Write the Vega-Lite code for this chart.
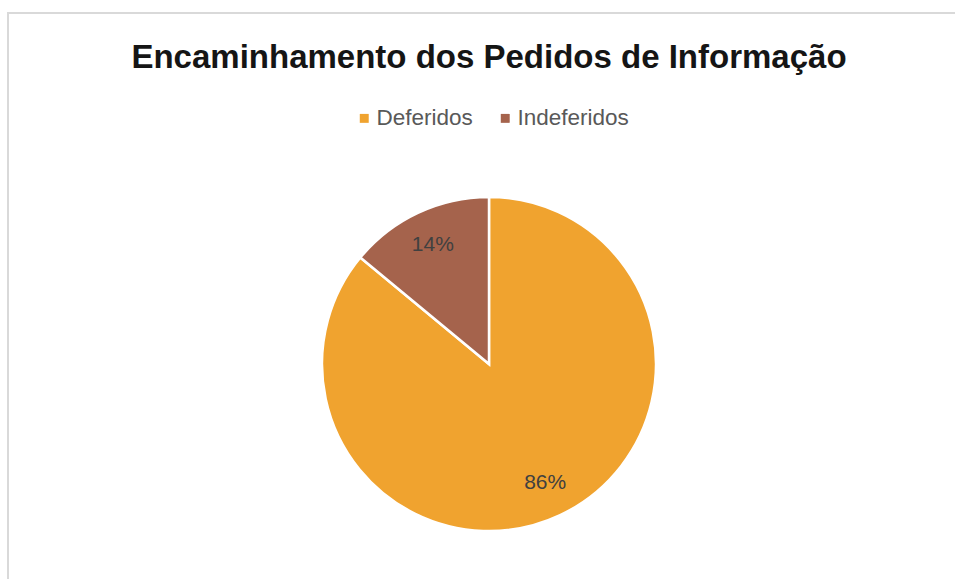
{
  "$schema": "https://vega.github.io/schema/vega-lite/v6.json",
  "autosize": "none",
  "padding": {"top": 13, "left": 8, "right": 0, "bottom": 0},
  "width": 962,
  "height": 702,
  "background": "white",
  "config": {
    "view": {"stroke": "#d9d9d9", "strokeWidth": 2, "fill": "white"},
    "font": "Liberation Sans"
  },
  "title": {
    "text": "Encaminhamento dos Pedidos de Informação",
    "anchor": "middle",
    "frame": "group",
    "offset": -89,
    "baseline": "alphabetic",
    "fontSize": 33,
    "fontWeight": "bold",
    "font": "Liberation Sans",
    "color": "#151515"
  },
  "data": {
    "values": [
      {"categoria": "Deferidos", "valor": 0.86, "ordem": 1},
      {"categoria": "Indeferidos", "valor": 0.14, "ordem": 2}
    ]
  },
  "layer": [
    {
      "data": {"values": [{"moldura": "borda"}]},
      "mark": {"type": "rect", "fill": null, "stroke": "#d9d9d9", "strokeWidth": 2},
      "encoding": {}
    },
    {
      "mark": {"type": "arc", "outerRadius": 167, "stroke": "white", "strokeWidth": 2.5},
      "encoding": {
        "theta": {"field": "valor", "type": "quantitative", "stack": true},
        "order": {"field": "ordem", "type": "quantitative"},
        "color": {
          "field": "categoria",
          "type": "nominal",
          "scale": {"domain": ["Deferidos", "Indeferidos"], "range": ["#F0A32F", "#A5634C"]},
          "legend": {
            "orient": "none",
            "legendX": 345,
            "legendY": 94,
            "direction": "horizontal",
            "title": null,
            "symbolType": "square",
            "symbolSize": 80,
            "symbolStrokeWidth": 0,
            "labelFontSize": 22.5,
            "labelColor": "#595959",
            "labelFont": "Liberation Sans",
            "columnPadding": 21,
            "labelOffset": 1
          }
        }
      }
    },
    {
      "mark": {"type": "text", "radius": 132, "fontSize": 21, "color": "#404040", "font": "Liberation Sans"},
      "encoding": {
        "theta": {"field": "valor", "type": "quantitative", "stack": true},
        "order": {"field": "ordem", "type": "quantitative"},
        "text": {"field": "valor", "type": "quantitative", "format": ".0%"}
      }
    }
  ]
}
